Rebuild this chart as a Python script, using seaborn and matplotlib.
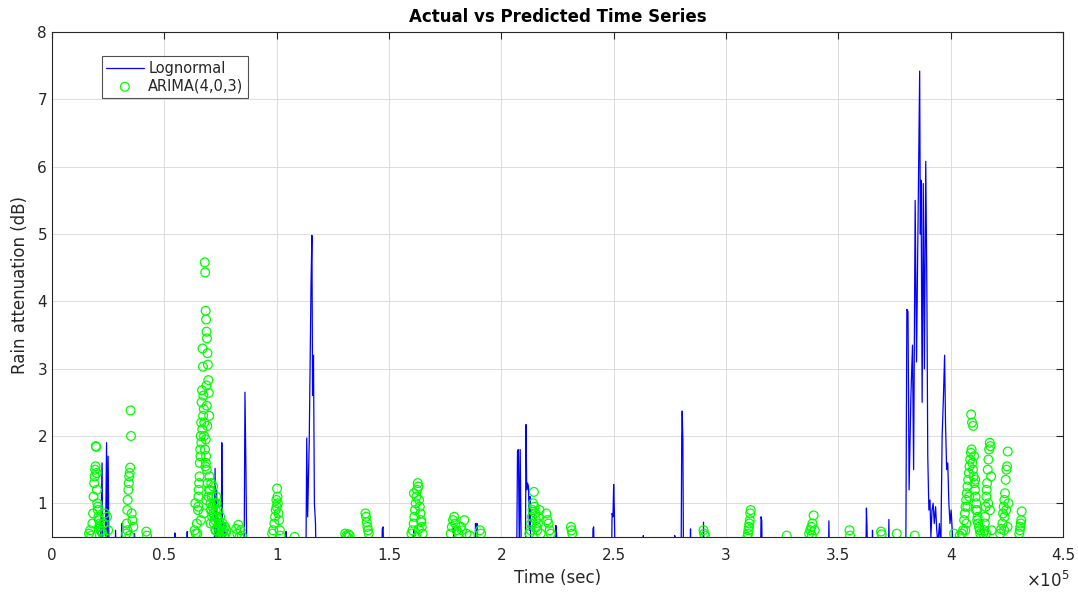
import numpy as np
import pandas as pd
import matplotlib
matplotlib.use("Agg")
import matplotlib.pyplot as plt
import seaborn as sns

# ---------------- data ----------------
lognormal_t = [0, 21500, 22300, 22600, 23800, 24300, 24600, 25000, 25400, 28000, 28300, 28600,
               30800, 31000, 31300, 36500, 36800, 37100, 54500, 54700, 55000, 60000, 60200, 60500,
               72200, 72600, 72900, 73300, 73600, 75300, 75600, 75900, 76300, 77000, 77300,
               85500, 85900, 86300, 86700, 87200, 104000, 104200, 104500,
               113000, 113400, 113800, 114500, 115300, 115700, 116000, 116400, 116800, 117300, 117600,
               146800, 147000, 147400, 147700, 160800, 161000, 161300, 178500, 178800, 179100,
               188300, 188500, 188800, 189200, 189500,
               206800, 207200, 207600, 208000, 208400, 208800, 209300,
               210700, 211000, 211300, 211700, 212100, 212500, 212800, 213200,
               224000, 224300, 224600, 225000, 240500, 240800, 241100, 241400,
               249000, 249300, 249700, 250000, 250300, 250700, 263000, 263200, 263400,
               277000, 277200, 277400, 280000, 280300, 280500, 280800, 281100,
               284000, 284200, 284500, 289700, 290000, 290300, 315300, 315600, 315900, 316200,
               345500, 345800, 346100, 362200, 362500, 362800, 363100, 365000, 365200, 365500,
               372200, 372500, 372800,
               380000, 380500, 381000, 381500, 382300, 383000, 383500, 384200, 384800, 385500,
               386200, 386500, 386800, 387300, 387800, 388300, 388900, 389400, 389800, 390300,
               390800, 391200, 391700, 392200, 392700, 393300, 393800, 394300, 395000, 395600,
               396200, 396700, 397300, 397700, 398200, 398700, 399200, 399700, 400200, 400700,
               401200, 450000]
lognormal_v = [0, 0, 1.6, 0.2, 0.3, 1.9, 0.4, 1.7, 0.2, 0, 0.6, 0,
               0, 0.7, 0, 0, 0.55, 0, 0, 0.56, 0, 0, 0.58, 0,
               0, 1.52, 0.3, 1.2, 0.2, 0, 1.9, 0.6, 0, 0.7, 0,
               0, 2.65, 1.6, 0.3, 0, 0, 0.58, 0,
               0, 1.97, 0.8, 1.9, 4.25, 4.98, 2.6, 3.2, 1.0, 0.7, 0,
               0, 0.62, 0.65, 0, 0, 0.6, 0, 0, 0.65, 0,
               0, 0.7, 0.6, 0.7, 0,
               0, 1.77, 1.8, 0.3, 1.8, 0.5, 0,
               0, 2.17, 1.2, 1.3, 1.25, 0.6, 1.1, 0,
               0, 0.67, 0.55, 0, 0, 0.62, 0.65, 0,
               0, 0.85, 0.8, 1.28, 0.9, 0, 0, 0.52, 0,
               0, 0.52, 0, 0, 2.0, 2.37, 1.95, 0,
               0, 0.62, 0, 0, 0.72, 0, 0, 0.8, 0.75, 0,
               0, 0.74, 0, 0, 0.93, 0.6, 0, 0, 0.6, 0,
               0, 0.76, 0,
               0, 3.88, 3.85, 1.2, 2.6, 3.35, 1.5, 5.5, 3.1, 5.2,
               7.42, 5.0, 5.8, 2.5, 5.75, 3.0, 6.08, 4.2, 1.7, 0.9,
               1.05, 0.5, 0.9, 1.0, 0.7, 0.95, 0.6, 0.4, 0.7, 0.3,
               2.0, 2.5, 3.2, 2.2, 1.5, 1.6, 1.0, 0.7, 0.9, 0.6,
               0, 0]

arima_t = [
    # ~0.2e5
    16500, 17000, 17500, 18000, 18300, 18500, 18800, 19000, 19200, 19400, 19500, 19700, 19900, 20000,
    20200, 20400, 20500, 20700, 20900, 21000, 21300, 21600, 22000, 22500, 23000, 23500, 24500, 25000,
    # ~0.35e5
    33000, 33300, 33500, 33700, 34000, 34200, 34400, 34600, 34800, 35000, 35200, 35500, 35800, 36200, 33600, 34500,
    # ~0.42e5
    42000, 42300,
    # big cluster ~0.7e5
    63500, 64000, 64500, 65000, 65200, 65500, 65800, 66000, 66200, 66400, 66600, 66800, 67000, 67200,
    67400, 67600, 67800, 68000, 68200, 68400, 68600, 68800, 69000, 69200, 69400, 69600, 69800, 70000,
    65100, 65300, 65700, 66100, 66500, 66900, 67300, 67700, 68100, 68500, 68900, 69300, 69700, 70100,
    70300, 70500, 70700, 70900, 71100, 71300, 71500, 71700, 71900, 72100, 72300, 72500, 72700, 72900,
    73100, 73300, 73500, 73700, 73900, 74100, 74300, 74500, 74700, 74900, 75100, 75400, 75700, 76000,
    76300, 76600, 77000, 77300, 77700, 63800, 64700, 66300, 67500, 68700, 69900, 70600, 71800, 73000,
    68300, 68600, 68450, 69100, 68900, 68800,
    # ~0.83e5
    82000, 82500, 83000, 83500, 84000, 84500,
    # ~1.0e5
    98000, 98500, 99000, 99300, 99600, 99900, 100200, 100500, 100800, 101100, 101400, 101700, 100000, 100400,
    108000,
    # ~1.3e5
    130500, 131000, 131500, 132000, 132500,
    139500, 139800, 140100, 140400, 140700, 141000,
    # ~1.6e5
    160000, 160500, 161000, 161300, 161600, 161900, 162200, 162500, 162800, 163100, 163400, 163700, 164000,
    164300, 164600, 165000, 161100, 162300, 163300, 164400,
    # ~1.8e5
    177500, 178000, 178500, 179000, 179500, 180000, 181000, 182000, 182500, 183500, 184500, 186000,
    190500, 191000,
    # ~2.15e5
    212500, 213000, 213300, 213600, 213900, 214200, 214500, 214800, 215100, 215400, 215700, 216000,
    216300, 216600, 217000, 217500,
    220000, 220500, 221000, 221500, 222000,
    231000, 231300, 231600,
    # ~2.9e5
    290000, 290300, 290600,
    # ~3.1e5
    309500, 309800, 310000, 310200, 310400, 310600, 310800, 311000,
    327000,
    # ~3.38e5
    337000, 337500, 338000, 338500, 339000, 339500, 338200,
    # misc
    355000, 355200, 369000, 369300, 376000, 384000, 401500,
    # ~4.1e5
    404000, 405000, 405500, 406000, 406300, 406600, 406900, 407200, 407500, 407800, 408100, 408400,
    408700, 409000, 409300, 409600, 409900, 410200, 410500, 410800, 411100, 411400, 411700, 412000,
    412300, 412600, 412900, 413200, 409100, 409500, 410000, 410400, 410900, 411300, 411800, 408200,
    407400, 407000, 406500,
    # ~4.16e5
    414500, 415000, 415300, 415600, 415900, 416200, 416500, 416800, 417100, 417400, 417700, 418000,
    415200, 416000, 416700, 417500, 418200, 415800,
    # ~4.24e5
    422000, 422500, 423000, 423300, 423600, 423900, 424200, 424500, 424800, 425100, 425400, 425700,
    424000, 424700, 425300, 423800,
    # ~4.31e5
    430500, 430800, 431000, 431200, 431400, 431600,
]
arima_v = [
    0.55, 0.6, 0.52, 0.7, 0.85, 1.1, 1.3, 1.4, 1.5, 1.55, 1.85, 1.84, 1.45, 1.2,
    1.0, 0.95, 0.9, 0.8, 0.75, 0.65, 0.7, 0.6, 0.58, 0.55, 0.7, 0.85, 0.8, 0.6,
    0.55, 0.7, 0.9, 1.05, 1.2, 1.3, 1.4, 1.45, 1.53, 2.38, 2.0, 0.85, 0.75, 0.65, 0.6, 0.52,
    0.58, 0.52,
    0.6, 0.55, 0.7, 0.9, 1.1, 1.3, 1.6, 1.8, 2.0, 2.2, 2.5, 2.68, 3.3, 3.03,
    2.6, 2.4, 2.2, 4.58, 4.43, 3.86, 3.73, 3.55, 3.45, 3.23, 3.06, 2.83, 2.64, 2.3,
    0.95, 1.2, 1.4, 1.7, 1.9, 2.1, 2.3, 2.0, 1.8, 1.6, 1.5, 1.3, 1.1, 1.4,
    1.2, 1.0, 0.9, 1.3, 1.1, 0.8, 0.95, 1.25, 0.85, 0.7, 1.0, 0.75, 0.6, 0.9,
    1.1, 1.0, 0.8, 0.65, 0.9, 0.75, 0.55, 0.7, 0.6, 0.8, 0.5, 0.65, 0.55, 0.7,
    0.6, 0.52, 0.65, 0.55, 0.6, 1.0, 0.55, 0.75, 0.85, 1.05, 1.2, 0.7, 0.85, 0.6,
    1.55, 1.7, 1.95, 2.15, 2.45, 2.75,
    0.62, 0.55, 0.68, 0.5, 0.6, 0.52,
    0.55, 0.6, 0.7, 0.8, 0.9, 1.05, 1.22, 1.0, 0.85, 0.75, 0.6, 0.52, 0.95, 1.1,
    0.5,
    0.55, 0.52, 0.5, 0.54, 0.52,
    0.85, 0.8, 0.72, 0.65, 0.6, 0.55,
    0.55, 0.6, 0.7, 0.8, 0.9, 1.0, 1.1, 1.2, 1.3, 1.25, 1.05, 0.95, 0.85,
    0.75, 0.65, 0.55, 1.15, 0.5, 0.62, 0.72,
    0.55, 0.65, 0.75, 0.8, 0.7, 0.6, 0.55, 0.65, 0.6, 0.75, 0.55, 0.52,
    0.6, 0.55,
    0.55, 0.6, 0.7, 0.8, 0.9, 1.0, 1.17, 0.95, 0.85, 0.75, 0.65, 0.6,
    0.7, 0.8, 0.9, 0.55,
    0.85, 0.75, 0.7, 0.6, 0.55,
    0.65, 0.6, 0.55,
    0.6, 0.55, 0.52,
    0.5, 0.55, 0.6, 0.65, 0.7, 0.75, 0.85, 0.9,
    0.52,
    0.55, 0.6, 0.65, 0.7, 0.82, 0.6, 0.52,
    0.6, 0.52, 0.58, 0.54, 0.55, 0.52, 0.55,
    0.52, 0.55, 0.6, 0.75, 0.85, 0.95, 1.05, 1.15, 1.25, 1.35, 1.45, 1.55,
    1.65, 1.75, 1.8, 1.6, 1.5, 1.4, 1.3, 1.2, 1.1, 1.0, 0.9, 0.8,
    0.7, 0.65, 0.6, 0.55, 2.32, 2.2, 2.15, 1.7, 1.35, 0.9, 0.75, 1.1,
    0.95, 0.7, 0.6,
    0.55, 0.6, 0.8, 0.95, 1.1, 1.3, 1.5, 1.65, 1.8, 1.9, 1.85, 1.4,
    0.7, 1.2, 1.0, 0.9, 0.6, 0.55,
    0.55, 0.62, 0.7, 0.85, 0.95, 1.05, 1.15, 1.35, 1.5, 1.55, 1.77, 1.0,
    0.8, 0.9, 0.65, 0.6,
    0.55, 0.6, 0.65, 0.7, 0.75, 0.88,
]

x_ticks = [0, 50000, 100000, 150000, 200000, 250000, 300000, 350000, 400000, 450000]
x_ticklabels = ["0", "0.5", "1", "1.5", "2", "2.5", "3", "3.5", "4", "4.5"]
y_ticks = [1, 2, 3, 4, 5, 6, 7, 8]

# ---------------- plot ----------------
sns.set_style("white")
plt.rcParams['font.family'] = ['DejaVu Sans']

fig = plt.figure(figsize=(10.78, 5.94), dpi=100)
ax = fig.add_axes([0.0482, 0.096, 0.9379, 0.850])

line_df = pd.DataFrame({"t": lognormal_t, "v": lognormal_v})
pts_df = pd.DataFrame({"t": arima_t, "v": arima_v})

sns.lineplot(data=line_df, x="t", y="v", ax=ax, color=(0, 0, 1), linewidth=0.9,
             sort=False, estimator=None, label="Lognormal", zorder=2)
sns.scatterplot(data=pts_df, x="t", y="v", ax=ax, marker="o", s=40,
                facecolor="none", edgecolor=(0, 1, 0), linewidth=0.9,
                label="ARIMA(4,0,3)", zorder=3)

ax.set_xlim(0, 450000)
ax.set_ylim(0.5, 8)
ax.set_xticks(x_ticks)
ax.set_xticklabels(x_ticklabels)
ax.set_yticks(y_ticks)

axc = "#262626"
ax.grid(True, color="#dcdcdc", linewidth=0.7)
ax.set_axisbelow(True)
for s in ax.spines.values():
    s.set_color(axc)
    s.set_linewidth(0.8)
    s.set_visible(True)
ax.tick_params(axis="both", direction="in", length=5, width=0.8, colors=axc,
               labelsize=11, top=True, right=True, labelcolor=axc)
ax.tick_params(axis="x", pad=8)

ax.set_xlabel("Time (sec)", fontsize=12, color=axc, labelpad=4)
ax.set_ylabel("Rain attenuation (dB)", fontsize=12, color=axc, labelpad=6)
ax.set_title("Actual vs Predicted Time Series", fontsize=12, fontweight="bold",
             color="black", pad=7)

fig.text(1048 / 1078, 1 - 581 / 594, r"$\times10^{5}$", ha="center", va="center",
         fontsize=12, color=axc)

leg = ax.legend(loc="upper left", bbox_to_anchor=(0.049, 0.952), frameon=True,
                fancybox=False, edgecolor=axc, fontsize=10.5, borderpad=0.3,
                handlelength=2.6, handletextpad=0.3, labelspacing=0.2,
                borderaxespad=0)
leg.get_frame().set_linewidth(0.8)

fig.savefig("out.png", dpi=100)
